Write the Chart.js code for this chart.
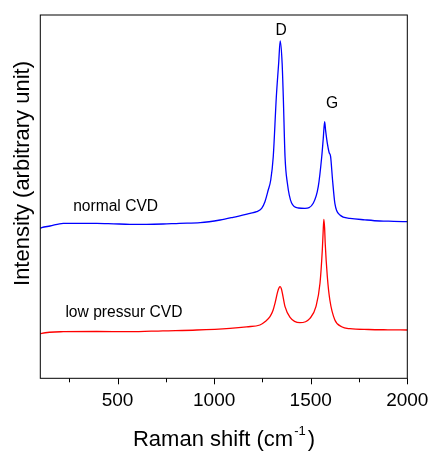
<!DOCTYPE html>
<html>
<head>
<meta charset="utf-8">
<script src="https://cdn.jsdelivr.net/npm/chart.js@4"></script>
<style>
  html, body { margin: 0; padding: 0; background: #fff; }
  #wrap { width: 433px; height: 452px; position: relative; }
</style>
</head>
<body>
<div id="wrap"><canvas id="raman-chart"></canvas></div>
<script>
// Raman spectra (x in cm-1, intensity in arbitrary units)
const normalShift = [100, 107, 150, 219, 300, 392, 480, 564, 650, 735, 820, 928, 1031, 1098, 1186, 1220, 1246, 1263, 1280, 1293, 1306, 1322, 1334, 1342, 1352, 1358, 1367, 1379, 1401, 1436, 1470, 1513, 1539, 1557, 1565, 1572, 1577, 1586, 1595, 1603, 1613, 1625, 1651, 1703, 1780, 1858, 1930, 2000];
const normalIntensity = [150, 150.6, 152.3, 155, 155, 155, 154.5, 154, 154, 154.3, 155, 155.6, 158.3, 161, 165, 166.6, 170, 176.6, 188.3, 198.3, 221.6, 281.6, 315, 337.3, 315, 281.6, 221.6, 195.3, 175.3, 170.3, 170, 175, 191.6, 221.6, 240, 256.6, 248, 235, 226, 221.6, 198.3, 175, 163.3, 160, 158.5, 157.3, 157, 156.6];

const lowShift = [100, 107, 219, 392, 564, 735, 910, 1082, 1168, 1237, 1263, 1289, 1305, 1315, 1329, 1336, 1342, 1348, 1355, 1367, 1393, 1444, 1496, 1527, 1548, 1560, 1564, 1568, 1572, 1575, 1586, 1599, 1625, 1660, 1703, 1800, 1900, 2000];
const lowIntensity = [44.5, 45, 46.6, 46.8, 46.6, 47.5, 48.3, 50, 51.5, 53.3, 56.5, 61.6, 68, 75, 86.6, 90.5, 91.6, 89.5, 83.3, 71.6, 61, 55.6, 60, 71.6, 95, 128.3, 145, 159, 150, 135, 101.6, 78.3, 58.3, 51.6, 49.6, 48.8, 48.5, 48.3];

const xTicks = [250, 500, 750, 1000, 1250, 1500, 1750, 2000];

// labels written on the plot: [text, x value, y value]
const notes = [
  ['D', 1347, 343],
  ['G', 1610, 270.6],
  ['normal CVD', 270, 167.6],
  ['low pressur CVD', 230, 61.3]
];

const FONT = '"Liberation Sans", Arial, sans-serif';

function toPoints(xs, ys) {
  return xs.map((x, i) => ({ x: x, y: ys[i] }));
}

const framePlugin = {
  id: 'frame',
  afterDraw(chart) {
    const ctx = chart.ctx;
    const a = chart.chartArea;
    const xs = chart.scales.x;
    const ys = chart.scales.y;
    ctx.save();
    ctx.strokeStyle = '#000';
    ctx.lineWidth = 1;
    ctx.strokeRect(a.left, a.top, a.right - a.left, a.bottom - a.top);

    // tick marks below the axis, long at the labelled ones
    xTicks.forEach(v => {
      const px = Math.round(xs.getPixelForValue(v)) + 0.5;
      const len = v % 500 === 0 ? 6 : 4;
      ctx.beginPath();
      ctx.moveTo(px, a.bottom);
      ctx.lineTo(px, a.bottom + len);
      ctx.stroke();
    });

    ctx.fillStyle = '#000';
    ctx.textBaseline = 'alphabetic';

    // notes
    ctx.font = '15.6px ' + FONT;
    notes.forEach(n => {
      const px = xs.getPixelForValue(n[1]);
      const py = ys.getPixelForValue(n[2]);
      ctx.textAlign = n[0].length === 1 ? 'center' : 'left';
      ctx.fillText(n[0], px, py);
    });

    // y title
    ctx.save();
    ctx.translate(29, 173.5);
    ctx.rotate(-Math.PI / 2);
    ctx.textAlign = 'center';
    ctx.font = '22px ' + FONT;
    ctx.fillText('Intensity (arbitrary unit)', 0, 0);
    ctx.restore();

    // x title with superscript
    ctx.textAlign = 'left';
    const main = 'Raman shift (cm';
    ctx.font = '22px ' + FONT;
    const w1 = ctx.measureText(main).width;
    ctx.font = '13px ' + FONT;
    const w2 = ctx.measureText('-1').width;
    ctx.font = '22px ' + FONT;
    const w3 = ctx.measureText(')').width;
    const total = w1 + 1 + w2 + 2 + w3;
    const x0 = 224 - total / 2;
    ctx.fillText(main, x0, 446);
    ctx.font = '13px ' + FONT;
    ctx.fillText('-1', x0 + w1 + 1, 435);
    ctx.font = '22px ' + FONT;
    ctx.fillText(')', x0 + w1 + 1 + w2 + 2, 446);
    ctx.restore();
  }
};

const canvas = document.getElementById('raman-chart');
const ctx = canvas.getContext('2d');

new Chart(ctx, {
  type: 'line',
  data: {
    datasets: [
      {
        label: 'normal CVD',
        data: toPoints(normalShift, normalIntensity),
        borderColor: '#0000ff',
        borderWidth: 1.3,
        pointRadius: 0,
        cubicInterpolationMode: 'monotone'
      },
      {
        label: 'low pressur CVD',
        data: toPoints(lowShift, lowIntensity),
        borderColor: '#ff0000',
        borderWidth: 1.3,
        pointRadius: 0,
        cubicInterpolationMode: 'monotone'
      }
    ]
  },
  options: {
    responsive: true,
    maintainAspectRatio: false,
    animation: false,
    layout: { padding: { left: 40.3, right: 25.7, top: 15, bottom: 0 } },
    plugins: {
      legend: { display: false },
      tooltip: { enabled: false }
    },
    scales: {
      x: {
        type: 'linear',
        min: 100,
        max: 2000,
        afterBuildTicks: (scale) => { scale.ticks = xTicks.map(v => ({ value: v })); },
        afterFit: (scale) => {
          scale.height = 73.7;
          scale.paddingLeft = 0;
          scale.paddingRight = 0;
        },
        grid: { display: false },
        border: { display: false },
        ticks: {
          padding: 3,
          maxRotation: 0,
          autoSkip: false,
          color: '#000',
          font: { family: FONT, size: 19 },
          callback: (v) => (v % 500 === 0 ? String(v) : '')
        }
      },
      y: {
        display: false,
        min: 0,
        max: 363.3
      }
    }
  },
  plugins: [framePlugin]
});
</script>
</body>
</html>
